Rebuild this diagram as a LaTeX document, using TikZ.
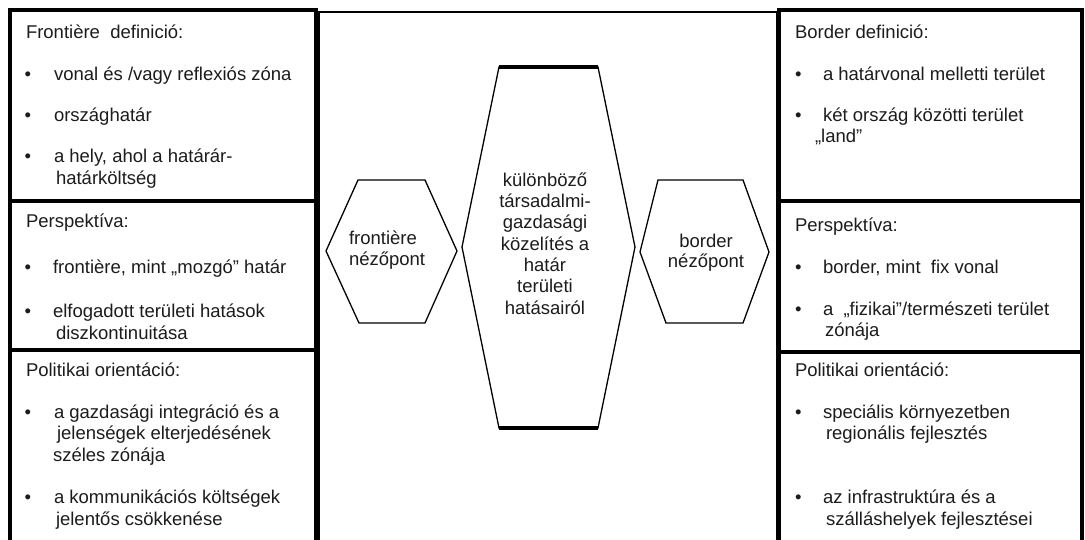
\documentclass[tikz,border=0pt]{standalone}
\usepackage{fontspec}
\setmainfont{Liberation Sans}
\definecolor{ink}{RGB}{28,28,28}
\newcommand\tline[4]{\node[txt] (#1) at (#2,#3) {#4};}
\begin{document}
\begin{tikzpicture}[x=1pt,y=-1pt,
  txt/.style={anchor=base west, inner sep=0pt, outer sep=0pt, font=\fontsize{18.5}{22}\selectfont, text=ink},
  ctxt/.style={anchor=base, inner sep=0pt, outer sep=0pt, font=\fontsize{18.5}{22}\selectfont, text=ink},
  colline/.style={line width=3.2pt, draw=black},
  midline/.style={line width=2pt, draw=black},
  hexline/.style={line width=1.3pt, draw=black, line join=miter},
  capline/.style={line width=3.5pt, draw=black}]
\useasboundingbox (0,0) rectangle (1085,540);
\clip (0,0) rectangle (1085,540);
\fill[white] (0,0) rectangle (1085,540);

% column frames
\draw[colline] (10,560) -- (10,10) -- (316,10) -- (316,560);
\draw[colline] (10,201) -- (316,201);
\draw[colline] (10,350) -- (316,350);
\draw[midline] (318.5,560) -- (318.5,12) -- (776.5,12) -- (776.5,560);
\draw[colline] (779,560) -- (779,10) -- (1082,10) -- (1082,560);
\draw[colline] (779,201) -- (1082,201);
\draw[colline] (779,352) -- (1082,352);

% left column texts
\tline{l1t}{26}{39}{Frontière \ definició:}
\tline{l1b1}{24.5}{81}{•}
\tline{l1a}{54}{81}{vonal és /vagy reflexiós zóna}
\tline{l1b2}{24.5}{122}{•}
\tline{l1b}{54}{122}{országhatár}
\tline{l1b3}{24.5}{163}{•}
\tline{l1c}{54}{163}{a hely, ahol a határár-}
\tline{l1d}{56}{185}{határköltség}

\tline{l2t}{26}{228}{Perspektíva:}
\tline{l2b1}{24.5}{274}{•}
\tline{l2a}{53}{274}{frontière, mint „mozgó” határ}
\tline{l2b2}{24.5}{317}{•}
\tline{l2b}{53}{317}{elfogadott területi hatások}
\tline{l2c}{56}{339}{diszkontinuitása}

\tline{l3t}{26}{376}{Politikai orientáció:}
\tline{l3b1}{24.5}{418}{•}
\tline{l3a}{54}{418}{a gazdasági integráció és a}
\tline{l3b}{57}{439}{jelenségek elterjedésének}
\tline{l3c}{53}{461}{széles zónája}
\tline{l3b2}{24.5}{503}{•}
\tline{l3d}{54}{503}{a kommunikációs költségek}
\tline{l3e}{56}{525}{jelentős csökkenése}

% right column texts
\tline{r1t}{795}{39}{Border definició:}
\tline{r1b1}{795}{81}{•}
\tline{r1a}{823}{81}{a határvonal melletti terület}
\tline{r1b2}{795}{122}{•}
\tline{r1b}{823}{122}{két ország közötti terület}
\tline{r1c}{815}{143}{„land”}

\tline{r2t}{795}{232}{Perspektíva:}
\tline{r2b1}{795}{274}{•}
\tline{r2a}{823}{274}{border, mint \ fix vonal}
\tline{r2b2}{795}{316}{•}
\tline{r2b}{823}{316}{a \ „fizikai”/természeti terület}
\tline{r2c}{825}{337}{zónája}

\tline{r3t}{795}{376}{Politikai orientáció:}
\tline{r3b1}{795}{418}{•}
\tline{r3a}{823}{418}{speciális környezetben}
\tline{r3b}{826}{439}{regionális fejlesztés}
\tline{r3b2}{795}{503}{•}
\tline{r3c}{823}{503}{az infrastruktúra és a}
\tline{r3d}{826}{525}{szálláshelyek fejlesztései}

% hexagons
\coordinate (fh1) at (358,180); \coordinate (fh2) at (425,180);
\coordinate (fh3) at (457,251); \coordinate (fh4) at (425,323);
\coordinate (fh5) at (359,323); \coordinate (fh6) at (326,251);
\draw[hexline] (fh1) -- (fh2) -- (fh3) -- (fh4) -- (fh5) -- (fh6) -- cycle;

\coordinate (ch1) at (499,67); \coordinate (ch2) at (598,67);
\coordinate (ch3) at (635,247); \coordinate (ch4) at (598,428);
\coordinate (ch5) at (499,428); \coordinate (ch6) at (462,247);
\draw[hexline] (ch1) -- (ch2) -- (ch3) -- (ch4) -- (ch5) -- (ch6) -- cycle;
\draw[capline] (ch1) -- (ch2);
\draw[capline] (ch5) -- (ch4);

\coordinate (bh1) at (658,180); \coordinate (bh2) at (743,180);
\coordinate (bh3) at (769,252); \coordinate (bh4) at (743,323);
\coordinate (bh5) at (666,323); \coordinate (bh6) at (640,252);
\draw[hexline] (bh1) -- (bh2) -- (bh3) -- (bh4) -- (bh5) -- (bh6) -- cycle;

% hexagon texts
\tline{fa}{349}{245}{frontière}
\tline{fb}{349}{266}{nézőpont}

\node[ctxt] (c1) at (545,186.5) {különböző};
\node[ctxt] (c2) at (545,208) {társadalmi-};
\node[ctxt] (c3) at (545,229) {gazdasági};
\node[ctxt] (c4) at (545,250.5) {közelítés a};
\node[ctxt] (c5) at (545,271.5) {határ};
\node[ctxt] (c6) at (545,293) {területi};
\node[ctxt] (c7) at (545,314.5) {hatásairól};

\node[ctxt] (ba) at (706,248) {border};
\node[ctxt] (bb) at (706,268) {nézőpont};
\end{tikzpicture}
\end{document}
